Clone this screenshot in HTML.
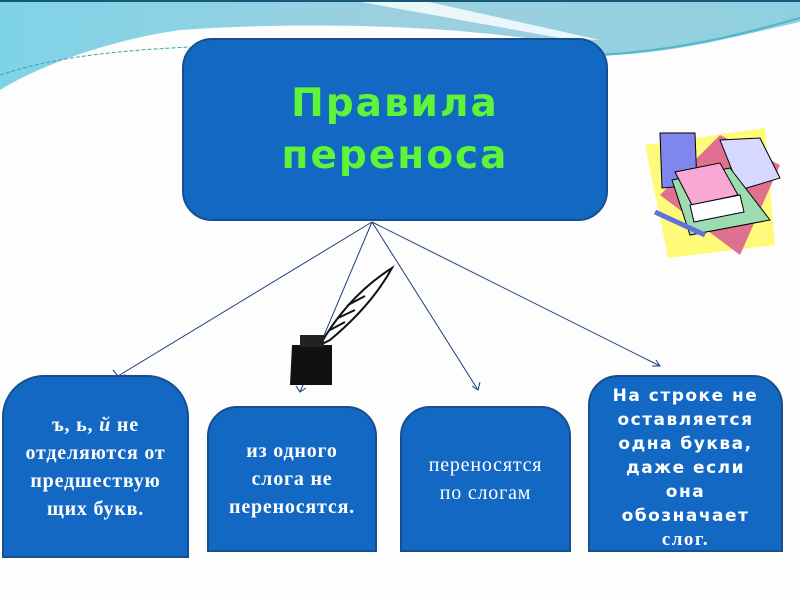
<!DOCTYPE html>
<html><head><meta charset="utf-8"><style>
body{margin:0;width:800px;height:600px;overflow:hidden;background:#fdfdfd;position:relative;font-family:"Liberation Sans",sans-serif}
.b{position:absolute;background:#1368c4;border:2px solid #174f8c;box-sizing:border-box;color:#fff;display:flex;align-items:center;justify-content:center;text-align:center}
.s{font-family:"Liberation Serif","DejaVu Serif",serif;font-size:20px;line-height:28px;letter-spacing:0.8px}
</style></head><body>
<svg width="800" height="600" style="position:absolute;left:0;top:0">
<defs><linearGradient id="g" x1="0" y1="0" x2="1" y2="0"><stop offset="0" stop-color="#7fd3e6"/><stop offset="0.5" stop-color="#9cd0e0"/><stop offset="1" stop-color="#8fd0e0"/></linearGradient></defs>
<rect x="0" y="0" width="800" height="600" fill="#fdfdfd"/>
<path d="M0 0H800V22C720 40 680 52 600 56L540 40C400 20 250 25 180 30C110 40 40 65 0 90Z" fill="url(#g)"/>
<path d="M350 0H420L600 40L560 38Z" fill="#fff" opacity="0.8"/>
<path d="M0 75C60 55 130 50 190 47" stroke="#3aa" stroke-width="1" stroke-dasharray="4 2" fill="none"/>
<path d="M600 55C680 50 740 35 800 18" stroke="#4bb8cc" stroke-width="2" fill="none"/>
<rect x="0" y="0" width="800" height="2" fill="#145a78"/>
<g stroke="#1b3f7a" stroke-width="1" fill="none">
<line x1="372" y1="222" x2="118" y2="376"/><line x1="372" y1="222" x2="300" y2="392"/>
<line x1="372" y1="222" x2="478" y2="390"/><line x1="372" y1="222" x2="660" y2="366"/>
<path d="M113 370L118 376L126 375"/><path d="M296 386L300 392L306 388"/>
<path d="M472 386L478 390L480 382"/><path d="M652 366L660 366L656 360"/>
</g>
<path d="M320 345C340 310 365 285 392 268C380 290 360 315 330 340Z" fill="#fff" stroke="#111" stroke-width="2"/>
<path d="M330 330L345 322M338 318L355 310M348 305L365 296" stroke="#111" stroke-width="2"/>
<path d="M292 345h40v40h-42z" fill="#111"/><rect x="300" y="335" width="24" height="12" fill="#222"/>
<polygon points="645,145 765,128 775,245 668,258" fill="#fffb7a"/>
<polygon points="660,195 720,135 780,165 740,255" fill="#e07090"/>
<polygon points="660,133 695,133 697,185 662,188" fill="#7f86ee" stroke="#000"/>
<polygon points="720,140 760,138 780,178 740,190" fill="#d6d8ff" stroke="#000"/>
<polygon points="672,180 730,168 770,220 690,235" fill="#9ddcb0" stroke="#000"/>
<polygon points="675,172 720,163 738,195 692,205" fill="#f7a8d4" stroke="#000"/>
<polygon points="690,205 740,195 744,212 694,222" fill="#fff" stroke="#000"/>
<line x1="655" y1="212" x2="705" y2="235" stroke="#6070e0" stroke-width="5"/>
</svg>
<div class="b" style="left:182px;top:38px;width:426px;height:183px;border-radius:30px;color:#5ef538;font-family:'DejaVu Sans',sans-serif;font-weight:bold;font-size:39px;line-height:52px;letter-spacing:2px">Правила<br>переноса</div>
<div class="b s" style="left:2px;top:375px;width:187px;height:183px;border-radius:42px 42px 0 0;font-weight:bold"><div>ъ, ь, <i>й</i> не<br>отделяются от<br>предшествую<br>щих букв.</div></div>
<div class="b s" style="left:207px;top:406px;width:170px;height:146px;border-radius:30px 30px 0 0;font-weight:bold"><div>из одного<br>слога не<br>переносятся.</div></div>
<div class="b s" style="left:400px;top:406px;width:171px;height:146px;border-radius:30px 30px 0 0"><div>переносятся<br>по слогам</div></div>
<div class="b" style="left:588px;top:375px;width:195px;height:177px;border-radius:30px 30px 0 0;font-family:'DejaVu Sans',sans-serif;font-weight:bold;font-size:17px;line-height:24px;letter-spacing:1.5px;align-items:flex-start;padding-top:7px"><div>На строке не<br>оставляется<br>одна буква,<br>даже если<br>она<br>обозначает<br><span style="font-family:'Liberation Serif',serif;font-size:19px">слог.</span></div></div>
</body></html>
